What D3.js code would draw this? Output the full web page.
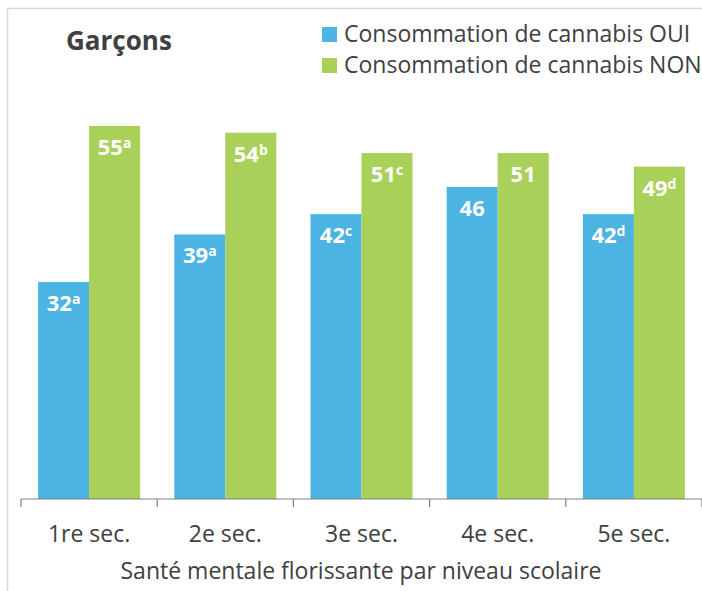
<!DOCTYPE html>
<html>
<head>
<meta charset="utf-8">
<script src="https://cdn.jsdelivr.net/npm/d3@7"></script>
<style>
  body { margin: 0; background: #fff; }
  text { font-family: 'Open Sans', sans-serif; }
</style>
</head>
<body>
<div id="chart"></div>
<script>
const levels = ['1re sec.', '2e sec.', '3e sec.', '4e sec.', '5e sec.']
const seriesNames = ['Consommation de cannabis OUI', 'Consommation de cannabis NON']
const oui = [32, 39, 42, 46, 42]
const non = [55, 54, 51, 51, 49]
const ouiSup = ['a', 'a', 'c', '', 'd']
const nonSup = ['a', 'b', 'c', '', 'd']

const width = 702
const height = 591
const colors = ['#4bb4e3', '#a9d15a']

const svg = d3
  .select('#chart')
  .append('svg')
  .attr('width', width)
  .attr('height', height)

// outer frame (only top and left visible in the crop)
svg
  .append('path')
  .attr('d', 'M7.5,600 V8.5 H710')
  .attr('fill', 'none')
  .attr('stroke', '#d9d9d9')
  .attr('stroke-width', 1.5)

const x0 = d3.scaleBand().domain(levels).range([21, 702]).paddingInner(0).paddingOuter(0)
const x1 = d3.scaleBand().domain([0, 1]).range([0, x0.bandwidth()]).paddingOuter(0.335)
const y = d3.scaleLinear().domain([0, 60]).range([499, 92])

const rows = levels.map((lvl, i) => ({
  lvl,
  vals: [
    { s: 0, v: oui[i], sup: ouiSup[i] },
    { s: 1, v: non[i], sup: nonSup[i] }
  ]
}))

const groups = svg
  .selectAll('.group')
  .data(rows)
  .enter()
  .append('g')
  .attr('class', 'group')
  .attr('transform', d => `translate(${x0(d.lvl)},0)`)

groups
  .selectAll('rect')
  .data(d => d.vals)
  .enter()
  .append('rect')
  .attr('x', d => x1(d.s))
  .attr('width', x1.bandwidth())
  .attr('y', d => y(d.v))
  .attr('height', d => y(0) - y(d.v))
  .attr('fill', d => colors[d.s])

const labels = groups
  .selectAll('.val')
  .data(d => d.vals)
  .enter()
  .append('text')
  .attr('class', 'val')
  .attr('x', d => x1(d.s) + x1.bandwidth() / 2)
  .attr('y', d => y(d.v) + 29)
  .attr('text-anchor', 'middle')
  .attr('fill', '#fff')
  .style('font-weight', 700)
  .style('font-size', '22px')

labels.append('tspan').text(d => d.v)
labels
  .append('tspan')
  .text(d => d.sup)
  .attr('dy', -7)
  .style('font-size', '14px')

// x axis
const axis = svg
  .append('g')
  .attr('transform', `translate(0,${y(0)})`)

axis
  .append('line')
  .attr('x1', x0.range()[0])
  .attr('x2', x0.range()[1])
  .attr('stroke', '#808080')
  .attr('stroke-width', 1.2)

axis
  .selectAll('.tick')
  .data(levels.concat(['end']))
  .enter()
  .append('line')
  .attr('x1', (d, i) => x0.range()[0] + i * x0.step())
  .attr('x2', (d, i) => x0.range()[0] + i * x0.step())
  .attr('y1', 0)
  .attr('y2', 8)
  .attr('stroke', '#808080')
  .attr('stroke-width', 1.2)

axis
  .selectAll('.lab')
  .data(levels)
  .enter()
  .append('text')
  .attr('class', 'lab')
  .attr('x', d => x0(d) + x0.bandwidth() / 2)
  .attr('y', 43)
  .attr('text-anchor', 'middle')
  .attr('fill', '#404040')
  .style('font-size', '23px')
  .text(d => d)

svg
  .append('text')
  .attr('x', 361)
  .attr('y', 579)
  .attr('text-anchor', 'middle')
  .attr('fill', '#404040')
  .style('font-size', '23px')
  .text('Santé mentale florissante par niveau scolaire')

svg
  .append('text')
  .attr('x', 66)
  .attr('y', 50)
  .attr('fill', '#404040')
  .style('font-size', '26px')
  .style('font-weight', 700)
  .text('Garçons')

const legend = svg
  .append('g')
  .attr('transform', 'translate(322, 27)')

legend
  .selectAll('.legend-row')
  .data(seriesNames)
  .enter()
  .append('g')
  .attr('class', 'legend-row')
  .attr('transform', (d, i) => `translate(0,${i * 31})`)
  .each(function(d, i) {
    const g = d3.select(this)
    g.append('rect')
      .attr('width', 15)
      .attr('height', 15)
      .attr('fill', colors[i])
    g.append('text')
      .attr('x', 22)
      .attr('y', 15)
      .attr('fill', '#404040')
      .style('font-size', '23px')
      .text(d)
  })
</script>
</body>
</html>
